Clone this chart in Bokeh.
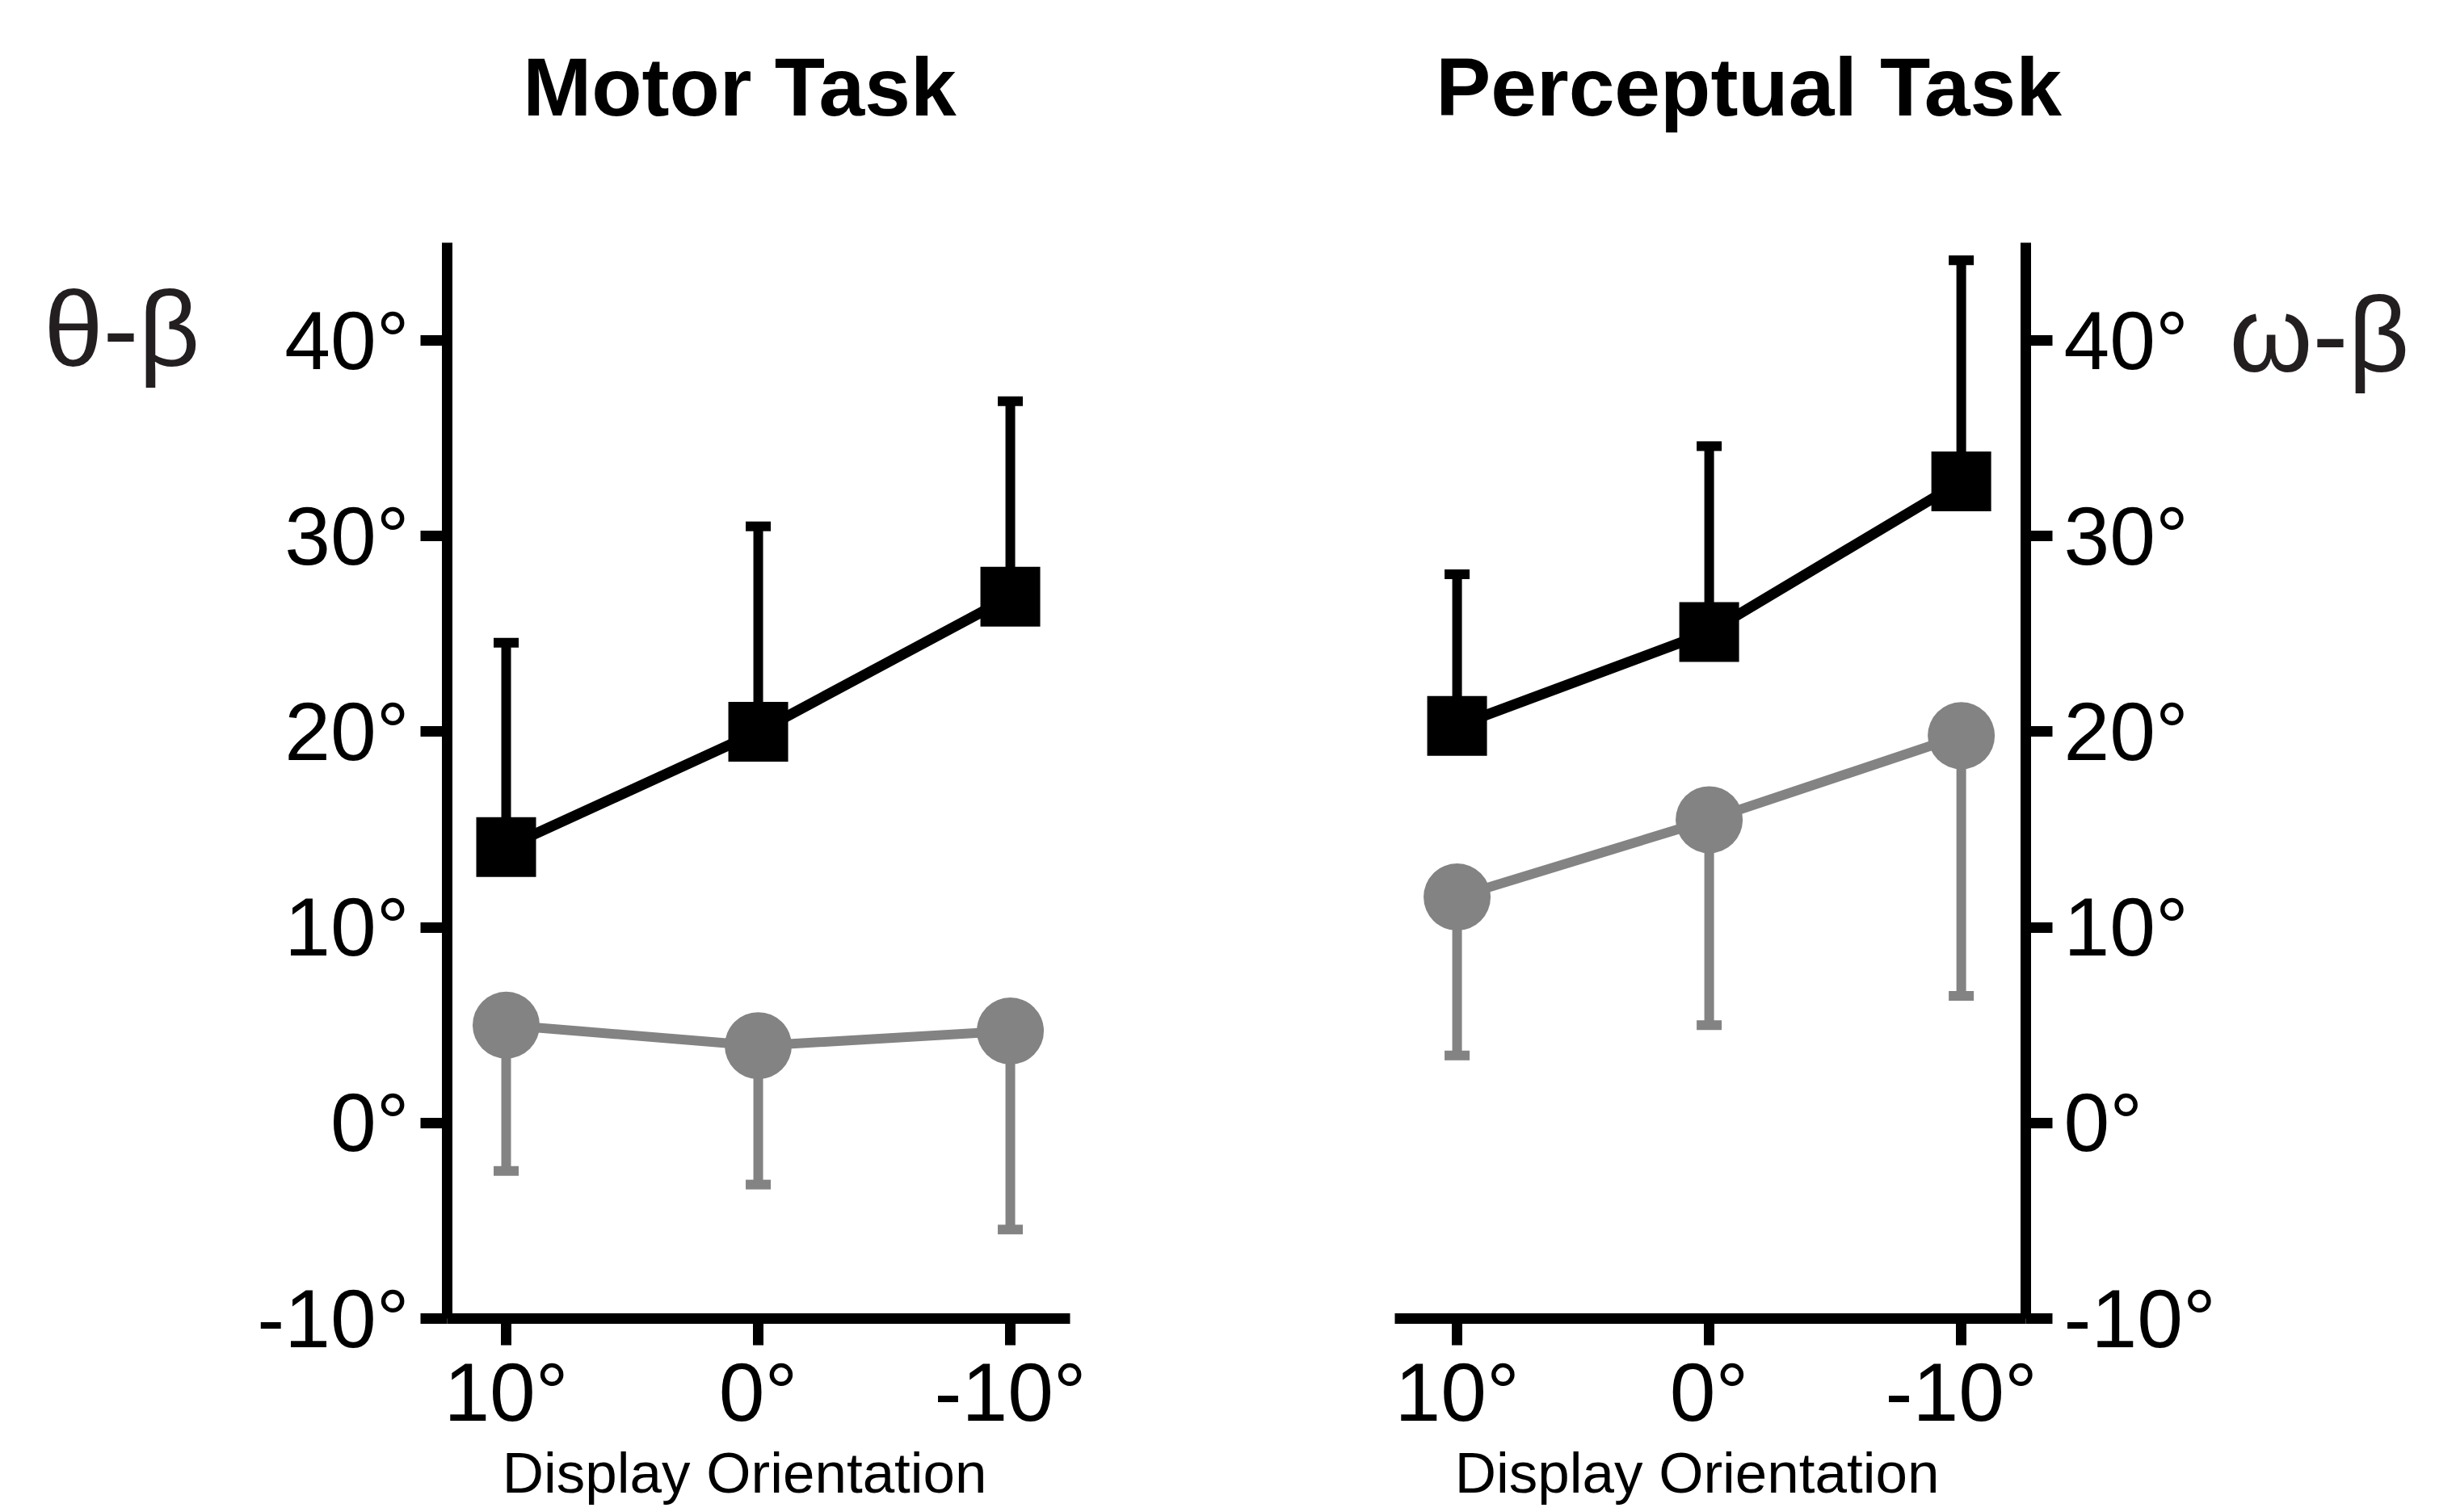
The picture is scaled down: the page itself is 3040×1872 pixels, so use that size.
from bokeh.plotting import figure
from bokeh.models import FixedTicker, LinearAxis, Range1d
from bokeh.layouts import row
from bokeh.embed import file_html
from bokeh.resources import INLINE

# ---------------- data ----------------
orientations = ["10°", "0°", "-10°"]          # display orientation categories
positions = [0, 1, 2]                          # category index on the x axis
y_ticks = [-10, 0, 10, 20, 30, 40]

# Motor task
motor_black_mean = [14.1, 20.0, 26.9]
motor_black_sd = [10.45, 10.5, 10.0]
motor_gray_mean = [5.0, 3.95, 4.7]
motor_gray_sd = [7.45, 7.1, 10.15]

# Perceptual task
perc_black_mean = [20.3, 25.1, 32.8]
perc_black_sd = [7.75, 9.5, 11.3]
perc_gray_mean = [11.55, 15.5, 19.8]
perc_gray_sd = [8.1, 10.5, 13.3]

FONT = "Liberation Sans"
GRAY = "#838383"
BLACK = "#000000"


def style_axes(p):
    for ax in (p.xaxis[0], p.yaxis[0]):
        ax.axis_line_width = 13
        ax.axis_line_color = BLACK
        ax.major_tick_line_width = 13
        ax.major_tick_line_color = BLACK
        ax.major_tick_in = 0
        ax.major_tick_out = 33
        ax.minor_tick_line_color = None
        ax.major_label_text_font = FONT
        ax.major_label_text_font_size = "102px"
        ax.major_label_text_color = BLACK
    p.xaxis[0].ticker = FixedTicker(ticks=positions)
    p.xaxis[0].major_label_overrides = {pos: lab for pos, lab in zip(positions, orientations)}
    p.xaxis[0].major_label_standoff = 1
    p.yaxis[0].ticker = FixedTicker(ticks=y_ticks)
    p.yaxis[0].major_label_overrides = {t: f"{t}°" for t in y_ticks}
    p.yaxis[0].major_label_standoff = 14


def text_axis(p, loc, pos, text, size, standoff, style="normal", color=BLACK):
    ax = LinearAxis(ticker=FixedTicker(ticks=[pos]), major_label_overrides={pos: text},
                    axis_line_color=None, major_tick_line_color=None,
                    minor_tick_line_color=None, major_tick_in=0, major_tick_out=0,
                    major_label_standoff=standoff, major_label_text_font=FONT,
                    major_label_text_font_size=size, major_label_text_font_style=style,
                    major_label_text_color=color)
    p.add_layout(ax, loc)


def draw_series(p, mean, sd, color, marker, size, line_w, up):
    ends = [m + s if up else m - s for m, s in zip(mean, sd)]
    p.line(positions, mean, line_width=line_w, line_color=color)
    p.segment(x0=positions, y0=mean, x1=positions, y1=ends, line_width=12, line_color=color)
    p.rect(x=positions, y=ends, width=31, height=12, width_units="screen",
           height_units="screen", fill_color=color, line_color=None)
    p.scatter(positions, mean, marker=marker, size=size, fill_color=color, line_color=None)


def make_panel(title, ylabel, black_mean, black_sd, gray_mean, gray_sd,
               x_range, width, bl, br, side, title_x, ylab_y, ylab_standoff, xlab_x):
    p = figure(width=width, height=1872, x_range=Range1d(*x_range), y_range=Range1d(-10, 45),
               output_backend="svg", toolbar_location=None, y_axis_location=side,
               min_border_left=bl, min_border_right=br, min_border_top=300, min_border_bottom=240)
    p.outline_line_color = None
    p.grid.visible = False
    p.background_fill_color = "white"
    p.border_fill_color = "white"
    style_axes(p)

    draw_series(p, gray_mean, gray_sd, GRAY, "circle", 83, 12, up=False)
    draw_series(p, black_mean, black_sd, BLACK, "square", 74, 13, up=True)

    text_axis(p, "above", title_x, title, "102px", 136, style="bold")
    text_axis(p, side, ylab_y, ylabel, "132px", ylab_standoff, color="#231f20")
    text_axis(p, "below", xlab_x, "Display Orientation", "71px", 0)
    return p


left = make_panel("Motor Task", "θ-β", motor_black_mean, motor_black_sd,
                  motor_gray_mean, motor_gray_sd, (-0.234, 2.237), 1525, 553, 201, "left",
                  0.926, 40.6, 68, 0.946)
right = make_panel("Perceptual Task", "ω-β", perc_black_mean, perc_black_sd,
                   perc_gray_mean, perc_gray_sd, (-0.247, 2.256), 1515, 201, 533, "right",
                   1.157, 40.3, 14, 0.952)

layout = row(left, right)
open("out.html", "w").write(file_html(layout, INLINE))
